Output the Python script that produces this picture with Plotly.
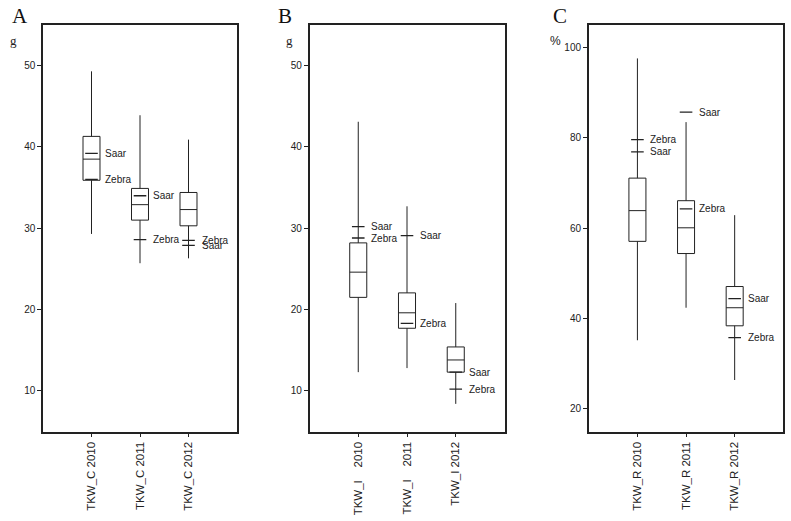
import plotly.graph_objects as go

W, H = 791, 521

positions = [1, 2, 3]

# Panel A (TKW_C, g)
a_labels = ["TKW_C 2010", "TKW_C 2011", "TKW_C 2012"]
a_min = [29.3, 25.7, 26.3]
a_q1 = [35.9, 31.0, 30.3]
a_med = [38.5, 32.9, 32.3]
a_q3 = [41.3, 34.9, 34.4]
a_max = [49.3, 43.9, 40.9]
a_saar = [39.2, 34.0, 27.9]
a_zebra = [36.0, 28.6, 28.5]

# Panel B (TKW_I, g)
b_labels = ["TKW_I\u00a0\u00a0\u00a0 2010", "TKW_I\u00a0\u00a0\u00a0 2011", "TKW_I 2012"]
b_min = [12.3, 12.8, 8.4]
b_q1 = [21.5, 17.7, 12.3]
b_med = [24.6, 19.6, 13.8]
b_q3 = [28.2, 22.05, 15.4]
b_max = [43.1, 32.7, 20.8]
b_saar = [30.2, 29.1, 12.3]
b_zebra = [28.8, 18.3, 10.2]

# Panel C (TKW_R, %)
c_labels = ["TKW_R 2010", "TKW_R 2011", "TKW_R 2012"]
c_min = [35.2, 42.4, 26.4]
c_q1 = [57.1, 54.4, 38.4]
c_med = [63.9, 60.1, 42.4]
c_q3 = [71.1, 66.1, 47.1]
c_max = [97.6, 83.5, 62.9]
c_saar = [76.9, 85.7, 44.4]
c_zebra = [79.6, 64.3, 35.8]

panels = [
    dict(letter="A", unit="g", labels=a_labels, mn=a_min, q1=a_q1, med=a_med, q3=a_q3, mx=a_max,
         saar=a_saar, zebra=a_zebra, yrange=[5, 55], tickvals=[10, 20, 30, 40, 50],
         px=(43, 237), letter_x=10, unit_x=8),
    dict(letter="B", unit="g", labels=b_labels, mn=b_min, q1=b_q1, med=b_med, q3=b_q3, mx=b_max,
         saar=b_saar, zebra=b_zebra, yrange=[5, 55], tickvals=[10, 20, 30, 40, 50],
         px=(309.5, 504.5), letter_x=276, unit_x=284),
    dict(letter="C", unit="%", labels=c_labels, mn=c_min, q1=c_q1, med=c_med, q3=c_q3, mx=c_max,
         saar=c_saar, zebra=c_zebra, yrange=[15, 105], tickvals=[20, 40, 60, 80, 100],
         px=(588.8, 783.3), letter_x=551, unit_x=548),
]


def fx(px):
    return px / W


def fy(py):
    return 1 - py / H


fig = go.Figure()
top_px, bot_px = 25, 431.5
ydom = [fy(bot_px), fy(top_px)]

font_sans = "Liberation Sans, Arial, sans-serif"
font_serif = "Liberation Serif, Times New Roman, serif"

annotations = []
for i, p in enumerate(panels):
    n = "" if i == 0 else str(i + 1)
    xa, ya = "x" + n, "y" + n
    fig.add_trace(go.Box(
        x=positions, q1=p["q1"], median=p["med"], q3=p["q3"],
        lowerfence=p["mn"], upperfence=p["mx"],
        width=0.35, whiskerwidth=0, fillcolor="rgba(255,255,255,0)",
        line=dict(color="#222222", width=1), boxpoints=False,
        xaxis=xa, yaxis=ya, showlegend=False, hoverinfo="skip"))
    for name, vals in (("Saar", p["saar"]), ("Zebra", p["zebra"])):
        fig.add_trace(go.Scatter(
            x=positions, y=vals, mode="markers",
            marker=dict(symbol="line-ew", size=9, line=dict(color="#222222", width=1.3)),
            xaxis=xa, yaxis=ya, showlegend=False, hoverinfo="skip"))
        for xp, v in zip(positions, vals):
            annotations.append(dict(
                x=xp, y=v, xref=xa, yref=ya, text=name, showarrow=False,
                xanchor="left", yanchor="middle", xshift=11,
                font=dict(family=font_sans, size=10, color="#222222")))
    dom = [fx(p["px"][0]), fx(p["px"][1])]
    fig.update_layout(**{
        "xaxis" + n: dict(domain=dom, range=[0, 4], tickvals=positions, ticktext=p["labels"],
                          tickangle=-90, ticks="outside", ticklen=4, tickcolor="#222222",
                          showline=True, mirror=True, linecolor="#222222", linewidth=1.5,
                          showgrid=False, zeroline=False, anchor=ya,
                          tickfont=dict(family=font_sans, size=11.5, color="#222222")),
        "yaxis" + n: dict(domain=ydom, range=p["yrange"], tickvals=p["tickvals"],
                          ticks="outside", ticklen=4, tickcolor="#222222",
                          showline=True, mirror=True, linecolor="#222222", linewidth=1.5,
                          showgrid=False, zeroline=False, anchor=xa,
                          tickfont=dict(family=font_sans, size=10, color="#222222")),
    })
    annotations.append(dict(
        x=fx(p["letter_x"]), y=fy(15.5), xref="paper", yref="paper", text=p["letter"],
        showarrow=False, xanchor="left", yanchor="middle",
        font=dict(family=font_serif, size=21, color="#111111")))
    annotations.append(dict(
        x=fx(p["unit_x"]), y=fy(41), xref="paper", yref="paper", text=p["unit"],
        showarrow=False, xanchor="left", yanchor="middle",
        font=dict(family=font_serif if p["unit"] == "g" else font_sans,
                  size=13 if p["unit"] == "g" else 12, color="#222222")))

fig.update_layout(
    width=W, height=H, margin=dict(l=0, r=0, t=0, b=0),
    paper_bgcolor="white", plot_bgcolor="white",
    annotations=annotations,
)

fig.write_html("out.html", config={"displayModeBar": False},
               post_script="document.body.style.margin='0';")
